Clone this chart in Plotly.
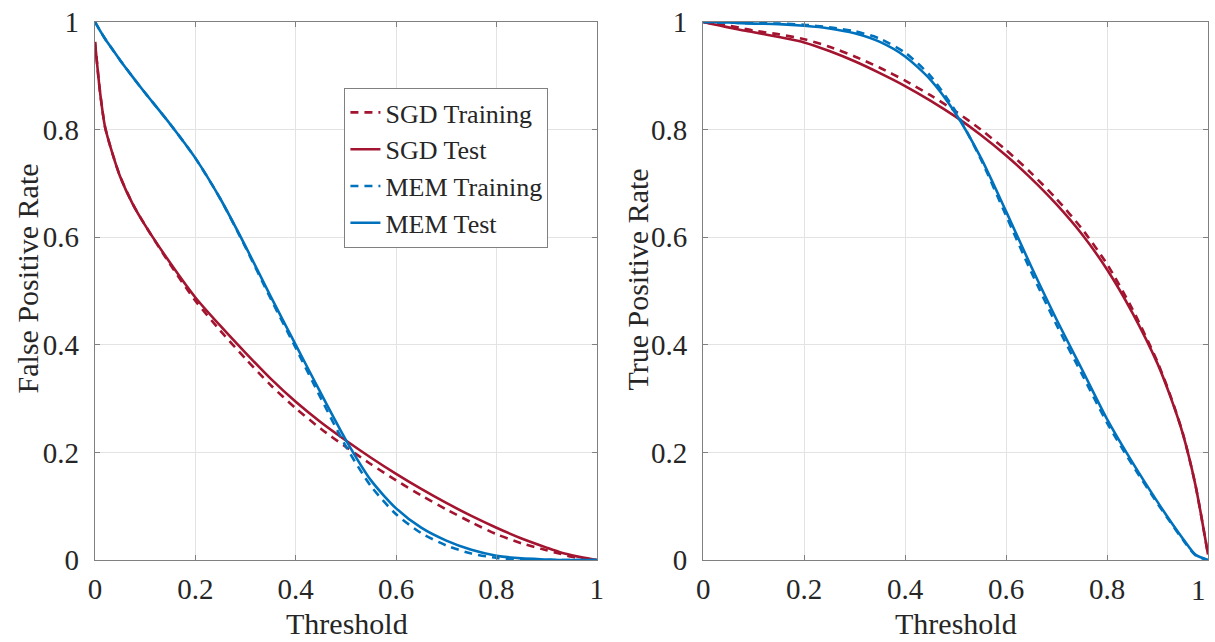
import plotly.graph_objects as go

# Decision thresholds shared by every curve
thresholds = [0, 0.01, 0.02, 0.035, 0.05, 0.075, 0.1, 0.15, 0.2, 0.25, 0.3, 0.35, 0.4,
              0.45, 0.5, 0.55, 0.6, 0.65, 0.7, 0.75, 0.8, 0.85, 0.9, 0.925, 0.95, 0.975, 1.0]

# False positive rate
fpr_sgd_train = [0.963, 0.87, 0.805, 0.755, 0.713, 0.662, 0.622, 0.549, 0.482, 0.426, 0.374,
                 0.325, 0.282, 0.244, 0.210, 0.178, 0.148, 0.120, 0.094, 0.070, 0.048, 0.031,
                 0.018, 0.012, 0.006, 0.002, 0.0]
fpr_sgd_test = [0.963, 0.87, 0.805, 0.755, 0.713, 0.662, 0.622, 0.552, 0.488, 0.435, 0.385,
                0.337, 0.294, 0.256, 0.222, 0.190, 0.160, 0.132, 0.106, 0.082, 0.060, 0.040,
                0.023, 0.015, 0.009, 0.004, 0.0]
fpr_mem_train = [1.0, 0.984, 0.969, 0.949, 0.929, 0.898, 0.868, 0.81, 0.747, 0.671, 0.581,
                 0.486, 0.394, 0.301, 0.211, 0.137, 0.085, 0.050, 0.027, 0.012, 0.004, 0.001,
                 0.0, 0.0, 0.0, 0.0, 0.0]
fpr_mem_test = [1.0, 0.984, 0.969, 0.949, 0.929, 0.898, 0.868, 0.81, 0.747, 0.671, 0.583,
                0.49, 0.4, 0.31, 0.223, 0.148, 0.096, 0.060, 0.036, 0.019, 0.008, 0.003,
                0.001, 0.0, 0.0, 0.0, 0.0]

# True positive rate
tpr_sgd_train = [1.0, 0.998, 0.997, 0.995, 0.993, 0.989, 0.984, 0.977, 0.968, 0.954, 0.936,
                 0.915, 0.891, 0.864, 0.834, 0.800, 0.762, 0.719, 0.671, 0.616, 0.550, 0.467,
                 0.368, 0.307, 0.236, 0.140, 0.01]
tpr_sgd_test = [1.0, 0.998, 0.996, 0.993, 0.990, 0.985, 0.981, 0.972, 0.962, 0.946, 0.927,
                0.905, 0.881, 0.854, 0.824, 0.790, 0.752, 0.709, 0.661, 0.606, 0.540, 0.460,
                0.365, 0.305, 0.235, 0.140, 0.01]
tpr_mem_train = [1.0, 1.0, 1.0, 0.999, 0.999, 0.998, 0.998, 0.997, 0.995, 0.990, 0.983,
                 0.969, 0.943, 0.900, 0.834, 0.745, 0.640, 0.535, 0.437, 0.346, 0.255, 0.177,
                 0.105, 0.071, 0.038, 0.009, 0.0]
tpr_mem_test = [1.0, 1.0, 1.0, 0.999, 0.999, 0.998, 0.997, 0.996, 0.993, 0.988, 0.979,
                0.963, 0.936, 0.893, 0.830, 0.748, 0.648, 0.545, 0.447, 0.355, 0.262, 0.182,
                0.108, 0.073, 0.040, 0.010, 0.0]

tick_vals = [0, 0.2, 0.4, 0.6, 0.8, 1]
tick_text = ["0", "0.2", "0.4", "0.6", "0.8", "1"]

RED = "#A2142F"
BLUE = "#0072BD"
FONT = "Times New Roman, Liberation Serif, serif"
TEXT = "#262626"

series = [
    ("SGD Training", RED, "8px,6px", fpr_sgd_train, tpr_sgd_train),
    ("SGD Test", RED, "solid", fpr_sgd_test, tpr_sgd_test),
    ("MEM Training", BLUE, "8px,6px", fpr_mem_train, tpr_mem_train),
    ("MEM Test", BLUE, "solid", fpr_mem_test, tpr_mem_test),
]

fig = go.Figure()
for name, color, dash, fpr, tpr in series:
    line = dict(color=color, width=2.6, dash=dash, shape="spline", smoothing=0.7)
    fig.add_trace(go.Scatter(x=thresholds, y=fpr, mode="lines", name=name, line=line,
                             xaxis="x", yaxis="y", showlegend=True))
    fig.add_trace(go.Scatter(x=thresholds, y=tpr, mode="lines", name=name, line=line,
                             xaxis="x2", yaxis="y2", showlegend=False))

axis_common = dict(
    range=[0, 1],
    tickmode="array",
    tickvals=tick_vals,
    ticktext=tick_text,
    showgrid=True,
    gridcolor="#e3e3e3",
    gridwidth=1,
    showline=True,
    linecolor="#808080",
    linewidth=1.2,
    mirror="ticks",
    ticks="inside",
    ticklen=5,
    tickcolor="#808080",
    zeroline=False,
    tickfont=dict(family=FONT, size=29, color=TEXT),
)

tick_font = dict(family=FONT, size=29, color=TEXT)
title_font = dict(family=FONT, size=30, color=TEXT)

W, H = 1215, 642
L, R, T, B = 95, 0, 22, 82
pw = W - L - R
ph = H - T - B


def px_x(px):
    return (px - L) / pw


def px_y(py):
    return 1 - (py - T) / ph


fig.update_layout(
    width=W,
    height=H,
    margin=dict(l=L, r=R, t=T, b=B),
    paper_bgcolor="white",
    plot_bgcolor="white",
    font=dict(family=FONT, color=TEXT),
    xaxis=dict(axis_common, domain=[0, px_x(600)], anchor="y", ticklabelstandoff=3),
    yaxis=dict(axis_common, domain=[0, 1], anchor="x", ticklabelstandoff=9),
    xaxis2=dict(axis_common, domain=[px_x(707), 1.0], anchor="y2", ticklabelstandoff=3),
    yaxis2=dict(axis_common, domain=[0, 1], anchor="x2", ticklabelstandoff=9),
    legend=dict(
        x=px_x(346),
        y=px_y(88),
        xanchor="left",
        yanchor="top",
        bgcolor="white",
        bordercolor="#808080",
        borderwidth=1,
        font=dict(family=FONT, size=26, color=TEXT),
        tracegroupgap=0,
    ),
)

# Axis titles
axis_titles = [
    ("Threshold", px_x(349), px_y(623), 0),
    ("Threshold", px_x(961), px_y(623), 0),
    ("False Positive Rate", px_x(27), px_y(278), -90),
    ("True Positive Rate", px_x(640), px_y(280), -90),
]
for text, ax, ay, angle in axis_titles:
    fig.add_annotation(text=text, x=ax, y=ay, xref="paper", yref="paper",
                       xanchor="center", yanchor="middle", textangle=angle,
                       showarrow=False, font=title_font)

# Last x tick label of the right panel sits on the page edge
fig.add_annotation(text=tick_text[-1], x=1.0, y=px_y(590), xref="paper", yref="paper",
                   xanchor="right", yanchor="middle", showarrow=False, font=tick_font)

fig.write_html("out.html")
